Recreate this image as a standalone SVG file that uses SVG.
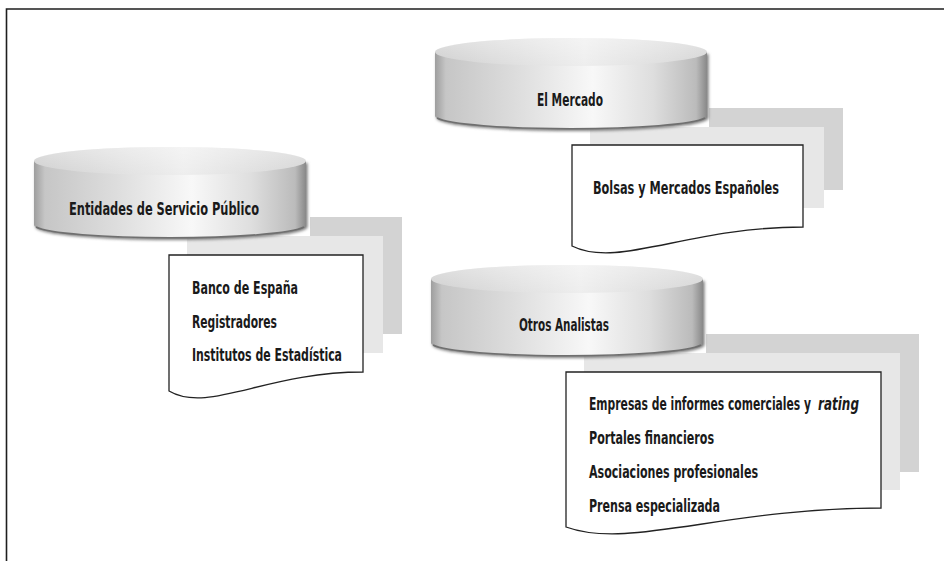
<svg xmlns="http://www.w3.org/2000/svg" width="944" height="561" viewBox="0 0 944 561">
<defs>
  <linearGradient id="body" x1="0" y1="0" x2="1" y2="0">
    <stop offset="0" stop-color="#9e9e9e"/>
    <stop offset="0.04" stop-color="#c6c6c6"/>
    <stop offset="0.3" stop-color="#dddddd"/>
    <stop offset="0.58" stop-color="#f8f8f8"/>
    <stop offset="0.8" stop-color="#dedede"/>
    <stop offset="0.96" stop-color="#bbbbbb"/>
    <stop offset="1" stop-color="#888888"/>
  </linearGradient>
  <linearGradient id="top" x1="0" y1="0" x2="1" y2="0">
    <stop offset="0" stop-color="#cfcfcf"/>
    <stop offset="0.55" stop-color="#eeeeee"/>
    <stop offset="1" stop-color="#d5d5d5"/>
  </linearGradient>
  <linearGradient id="topv" x1="0" y1="0" x2="0" y2="1">
    <stop offset="0" stop-color="#ffffff" stop-opacity="0.35"/>
    <stop offset="1" stop-color="#ffffff" stop-opacity="0"/>
  </linearGradient>
  <filter id="blur" x="-10%" y="-50%" width="120%" height="200%">
    <feGaussianBlur stdDeviation="1.4"/>
  </filter>
  <g id="cyl">
    <path d="M-136,14 L-136,78 A136,13 0 0 0 136,78 L136,14 Z" fill="#7a7a7a" transform="translate(1.5,2)" filter="url(#blur)"/>
    <path d="M-136,14 L-136,78 A136,13 0 0 0 136,78 L136,14 Z" fill="url(#body)"/>
    <path d="M-134,80 A136,13 0 0 0 134,80" fill="none" stroke="#6f6f6f" stroke-width="1.6"/>
    <ellipse cx="0" cy="14" rx="136" ry="14" fill="url(#top)"/>
    <ellipse cx="0" cy="14" rx="136" ry="14" fill="url(#topv)"/>
  </g>
</defs>
<style>
  .frame { fill: none; stroke: #1e1e1e; stroke-width: 1.6; }
  .dark { fill: #d3d3d3; }
  .light { fill: #e7e7e7; }
  .doc { fill: #ffffff; stroke: #222222; stroke-width: 1.3; }
  .t { font-family: 'DejaVu Sans Condensed', 'Liberation Sans Narrow', 'Liberation Sans', sans-serif; font-weight: bold; font-size: 12px; fill: #1a1a1a; }
  .s { font-size: 11.2px; }
  .it { font-style: italic; }
</style>

<path class="frame" d="M6.5,561 L6.5,9 L944,9"/>

<g id="connectors"></g>

<g id="node-entidades">
  <rect class="dark" x="310" y="217" width="92" height="117"/>
  <rect class="light" x="187" y="236" width="196" height="117"/>
  <path class="doc" d="M169,255 H363 V372 C266,372 208,414 169,391 Z"/>
  <text class="t" transform="translate(192,294) scale(1,1.5)" textLength="106" lengthAdjust="spacingAndGlyphs">Banco de España</text>
  <text class="t" transform="translate(192,327.5) scale(1,1.5)" textLength="85" lengthAdjust="spacingAndGlyphs">Registradores</text>
  <text class="t" transform="translate(192,361) scale(1,1.5)" textLength="150" lengthAdjust="spacingAndGlyphs">Institutos de Estadística</text>
  <use href="#cyl" x="170" y="147"/>
  <text class="t" transform="translate(69,215) scale(1,1.5)" textLength="190" lengthAdjust="spacingAndGlyphs">Entidades de Servicio Público</text>
</g>

<g id="node-mercado">
  <rect class="dark" x="709" y="108" width="134" height="82"/>
  <rect class="light" x="590" y="127" width="234" height="81"/>
  <path class="doc" d="M572,145 H803 V227 C688,227 618,269 572,246 Z"/>
  <text class="t" transform="translate(593,194) scale(1,1.5)" textLength="186" lengthAdjust="spacingAndGlyphs">Bolsas y Mercados Españoles</text>
  <use href="#cyl" x="571" y="38"/>
  <text class="t" transform="translate(537,106) scale(1,1.5)" textLength="66" lengthAdjust="spacingAndGlyphs">El Mercado</text>
</g>

<g id="node-otros">
  <rect class="dark" x="706" y="334" width="213" height="138"/>
  <rect class="light" x="584" y="353" width="316" height="137"/>
  <path class="doc" d="M566,372 H881 V508 C724,508 629,550 566,527 Z"/>
  <text class="t s" transform="translate(589,410) scale(1,1.6)" textLength="222" lengthAdjust="spacingAndGlyphs">Empresas de informes comerciales y</text>
  <text class="t s it" transform="translate(818,410) scale(1,1.6)" textLength="41" lengthAdjust="spacingAndGlyphs">rating</text>
  <text class="t" transform="translate(589,444) scale(1,1.5)" textLength="125" lengthAdjust="spacingAndGlyphs">Portales financieros</text>
  <text class="t" transform="translate(589,478) scale(1,1.5)" textLength="169" lengthAdjust="spacingAndGlyphs">Asociaciones profesionales</text>
  <text class="t" transform="translate(589,512) scale(1,1.5)" textLength="131" lengthAdjust="spacingAndGlyphs">Prensa especializada</text>
  <use href="#cyl" x="567" y="265"/>
  <text class="t" transform="translate(519,331) scale(1,1.5)" textLength="90" lengthAdjust="spacingAndGlyphs">Otros Analistas</text>
</g>
</svg>
